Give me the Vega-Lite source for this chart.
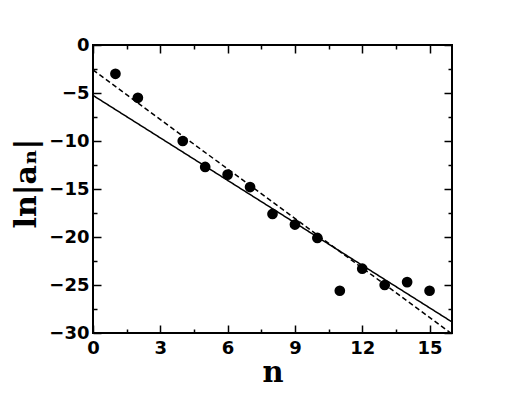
{
  "$schema": "https://vega.github.io/schema/vega-lite/v6.json",
  "width": 359,
  "height": 288,
  "autosize": "none",
  "padding": {"left": 93, "top": 45, "right": 74, "bottom": 69},
  "background": "white",
  "config": {
    "view": {"stroke": "black", "strokeWidth": 2},
    "axis": {
      "domain": false,
      "grid": false,
      "tickColor": "black",
      "tickWidth": 1.5,
      "labelFont": "DejaVu Sans",
      "labelFontWeight": "bold",
      "labelFontSize": 18,
      "labelColor": "black",
      "labelFlush": false,
      "titleColor": "black"
    }
  },
  "datasets": {
    "points": [
      {"n": 1, "v": -3.0},
      {"n": 2, "v": -5.5},
      {"n": 4, "v": -10.0},
      {"n": 5, "v": -12.7},
      {"n": 6, "v": -13.5},
      {"n": 7, "v": -14.8},
      {"n": 8, "v": -17.6},
      {"n": 9, "v": -18.7},
      {"n": 10, "v": -20.1},
      {"n": 11, "v": -25.6},
      {"n": 12, "v": -23.3},
      {"n": 13, "v": -25.0},
      {"n": 14, "v": -24.7},
      {"n": 15, "v": -25.6}
    ],
    "fits": [
      {"fit": "solid", "n": 0, "v": -5.25},
      {"fit": "solid", "n": 16, "v": -28.85},
      {"fit": "dashed", "n": 0, "v": -2.6},
      {"fit": "dashed", "n": 16, "v": -30.1}
    ]
  },
  "layer": [
    {
      "data": {"name": "fits"},
      "mark": {"type": "line", "clip": true, "color": "black", "strokeWidth": 1.5},
      "encoding": {
        "x": {
          "field": "n", "type": "quantitative",
          "scale": {"domain": [0, 16], "nice": false, "zero": false},
          "axis": {
            "orient": "top", "labels": false, "title": null,
            "values": [0, 1.5, 3, 4.5, 6, 7.5, 9, 10.5, 12, 13.5, 15],
            "tickSize": {"condition": {"test": "datum.value % 3 === 0", "value": -8}, "value": -4}
          }
        },
        "y": {
          "field": "v", "type": "quantitative",
          "scale": {"domain": [-30, 0], "nice": false, "zero": false},
          "axis": {
            "orient": "right", "labels": false, "title": null,
            "values": [-30, -27.5, -25, -22.5, -20, -17.5, -15, -12.5, -10, -7.5, -5, -2.5, 0],
            "tickSize": {"condition": {"test": "datum.value % 5 === 0", "value": -8}, "value": -4}
          }
        },
        "detail": {"field": "fit", "type": "nominal"},
        "strokeDash": {
          "field": "fit", "type": "nominal",
          "scale": {"domain": ["solid", "dashed"], "range": [[1, 0], [5, 3]]},
          "legend": null
        }
      }
    },
    {
      "data": {"name": "points"},
      "mark": {"type": "circle", "size": 115, "color": "black", "opacity": 1},
      "encoding": {
        "x": {
          "field": "n", "type": "quantitative",
          "scale": {"domain": [0, 16], "nice": false, "zero": false},
          "axis": {
            "orient": "bottom",
            "title": "n",
            "titleFont": "DejaVu Serif",
            "titleFontWeight": "bold",
            "titleFontSize": 29,
            "titleBaseline": "alphabetic",
            "titleY": 48,
            "values": [0, 1.5, 3, 4.5, 6, 7.5, 9, 10.5, 12, 13.5, 15],
            "labelExpr": "datum.value % 3 === 0 ? datum.label : ''",
            "labelPadding": 14,
            "tickSize": {"condition": {"test": "datum.value % 3 === 0", "value": -8}, "value": -4}
          }
        },
        "y": {
          "field": "v", "type": "quantitative",
          "scale": {"domain": [-30, 0], "nice": false, "zero": false},
          "axis": {
            "orient": "left",
            "title": "ln|aₙ|",
            "titleFont": "DejaVu Serif",
            "titleFontWeight": "bold",
            "titleFontSize": 30,
            "titleBaseline": "alphabetic",
            "titleX": -58,
            "titleY": 138,
            "values": [-30, -27.5, -25, -22.5, -20, -17.5, -15, -12.5, -10, -7.5, -5, -2.5, 0],
            "labelExpr": "datum.value % 5 === 0 ? datum.label : ''",
            "labelPadding": 12,
            "tickSize": {"condition": {"test": "datum.value % 5 === 0", "value": -8}, "value": -4}
          }
        }
      }
    }
  ],
  "resolve": {"scale": {"x": "independent", "y": "independent"}}
}
